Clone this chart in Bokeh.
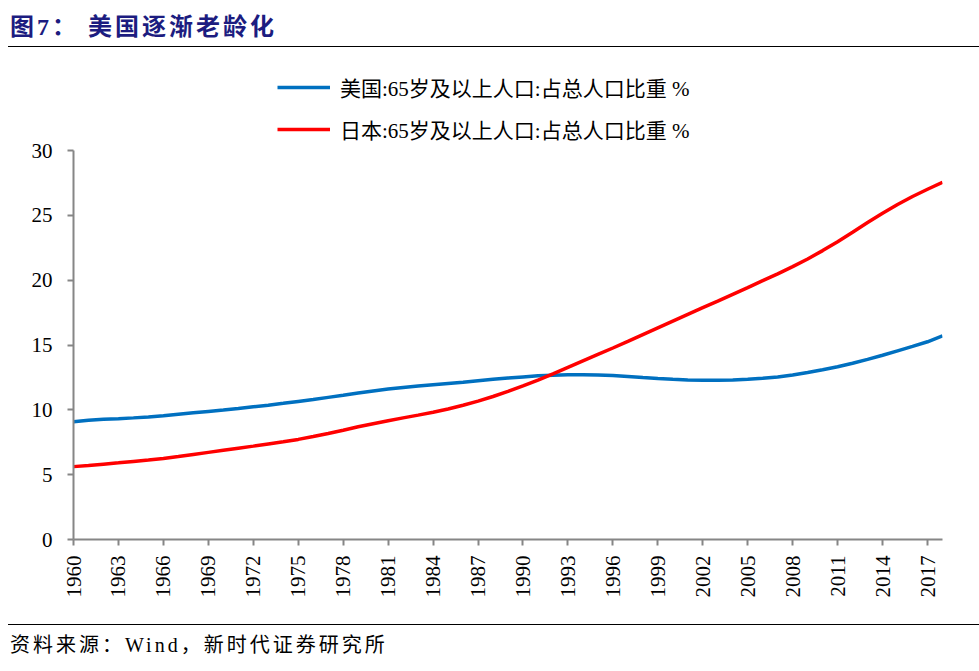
import math
from bokeh.plotting import figure
from bokeh.layouts import column
from bokeh.models import Range1d, FixedTicker, Div, Legend, LegendItem
from bokeh.embed import file_html
from bokeh.resources import INLINE

years = list(range(1960, 2019))
usa = [9.09, 9.19, 9.27, 9.32, 9.38, 9.45, 9.55, 9.66, 9.77, 9.88,
       9.98, 10.10, 10.23, 10.36, 10.50, 10.65, 10.80, 10.96, 11.12, 11.29,
       11.46, 11.60, 11.72, 11.83, 11.93, 12.03, 12.13, 12.24, 12.35, 12.45,
       12.54, 12.62, 12.67, 12.70, 12.71, 12.69, 12.64, 12.57, 12.49, 12.42,
       12.36, 12.31, 12.29, 12.29, 12.31, 12.35, 12.43, 12.54, 12.69, 12.88,
       13.09, 13.32, 13.59, 13.89, 14.21, 14.55, 14.89, 15.25, 15.70]
japan = [5.62, 5.71, 5.81, 5.91, 6.02, 6.13, 6.25, 6.40, 6.56, 6.72,
         6.88, 7.04, 7.20, 7.37, 7.54, 7.72, 7.94, 8.18, 8.43, 8.69,
         8.93, 9.16, 9.38, 9.59, 9.81, 10.06, 10.35, 10.67, 11.03, 11.42,
         11.84, 12.29, 12.77, 13.27, 13.77, 14.27, 14.77, 15.28, 15.80, 16.32,
         16.84, 17.36, 17.88, 18.39, 18.91, 19.43, 19.96, 20.49, 21.04, 21.63,
         22.28, 22.97, 23.70, 24.44, 25.16, 25.83, 26.45, 27.01, 27.55]
x_ticks = list(range(1960, 2018, 3))
y_ticks = [0, 5, 10, 15, 20, 25, 30]
y_max = 30
title_text = "图7：&nbsp;美国逐渐老龄化"
series_labels = ["美国:65岁及以上人口:占总人口比重 %", "日本:65岁及以上人口:占总人口比重 %"]
series_colors = ["#0070C0", "#FF0000"]
source_text = "资料来源：Wind，新时代证券研究所"

SERIF = "'Liberation Serif', 'Noto Sans CJK SC', serif"
W = 963
ML, MR = 73, 21
MT, MB = 22, 85
PH = 577
FH = PH - MT - MB          # frame height (includes legend area on top)
AXIS_PX = 389              # pixel height of the 0..30 axis

header = Div(text=f'<div style="font-family:{SERIF}; font-size:24px; font-weight:bold; '
                  f'letter-spacing:3px; color:#1C1C80; line-height:24px; padding-top:15px; '
                  f'padding-left:2px; white-space:nowrap">{title_text}</div>',
             width=971, height=46, margin=(0, 0, 0, 8),
             styles={"border-bottom": "1.5px solid black", "box-sizing": "content-box"})

p = figure(width=W, height=PH, x_range=Range1d(1960, 2018),
           y_range=Range1d(0, y_max * FH / AXIS_PX),
           output_backend="svg", toolbar_location=None,
           min_border_left=ML, min_border_right=MR, min_border_top=MT, min_border_bottom=MB)
p.outline_line_color = None
p.grid.visible = False
r_us = p.line(years, usa, line_color=series_colors[0], line_width=3.5)
r_jp = p.line(years, japan, line_color=series_colors[1], line_width=3.5)

for ax in (p.xaxis[0], p.yaxis[0]):
    ax.axis_line_color = "#868686"
    ax.axis_line_width = 2
    ax.major_tick_line_color = "#868686"
    ax.major_tick_line_width = 2
    ax.major_tick_out = 6
    ax.major_tick_in = 0
    ax.minor_tick_line_color = None
    ax.major_label_text_font = SERIF
    ax.major_label_text_font_size = "21px"
    ax.major_label_text_color = "black"
p.yaxis.bounds = (0, y_max)
p.xaxis.ticker = FixedTicker(ticks=x_ticks)
p.yaxis.ticker = FixedTicker(ticks=y_ticks)
p.xaxis.major_label_orientation = math.pi / 2
p.yaxis.major_label_standoff = 15
p.xaxis.major_label_standoff = 10

legend = Legend(items=[LegendItem(label=series_labels[0], renderers=[r_us]),
                       LegendItem(label=series_labels[1], renderers=[r_jp])],
                location=(204, 393), orientation="vertical",
                glyph_width=53, glyph_height=34, label_height=34, spacing=8,
                label_standoff=10, padding=0, margin=0,
                border_line_color=None, background_fill_alpha=0,
                label_text_font=SERIF, label_text_font_size="21px",
                label_text_color="black")
p.add_layout(legend, "center")

footer = Div(text=f'<div style="font-family:{SERIF}; font-size:20px; letter-spacing:3px; '
                  f'color:black; line-height:20px; padding-top:10px; padding-left:2px; '
                  f'white-space:nowrap">{source_text}</div>',
             width=971, height=38, margin=(0, 0, 0, 8),
             styles={"border-top": "1.5px solid black", "box-sizing": "content-box"})

layout = column(header, p, footer, spacing=0)
open("out.html", "w").write(file_html(layout, INLINE))
